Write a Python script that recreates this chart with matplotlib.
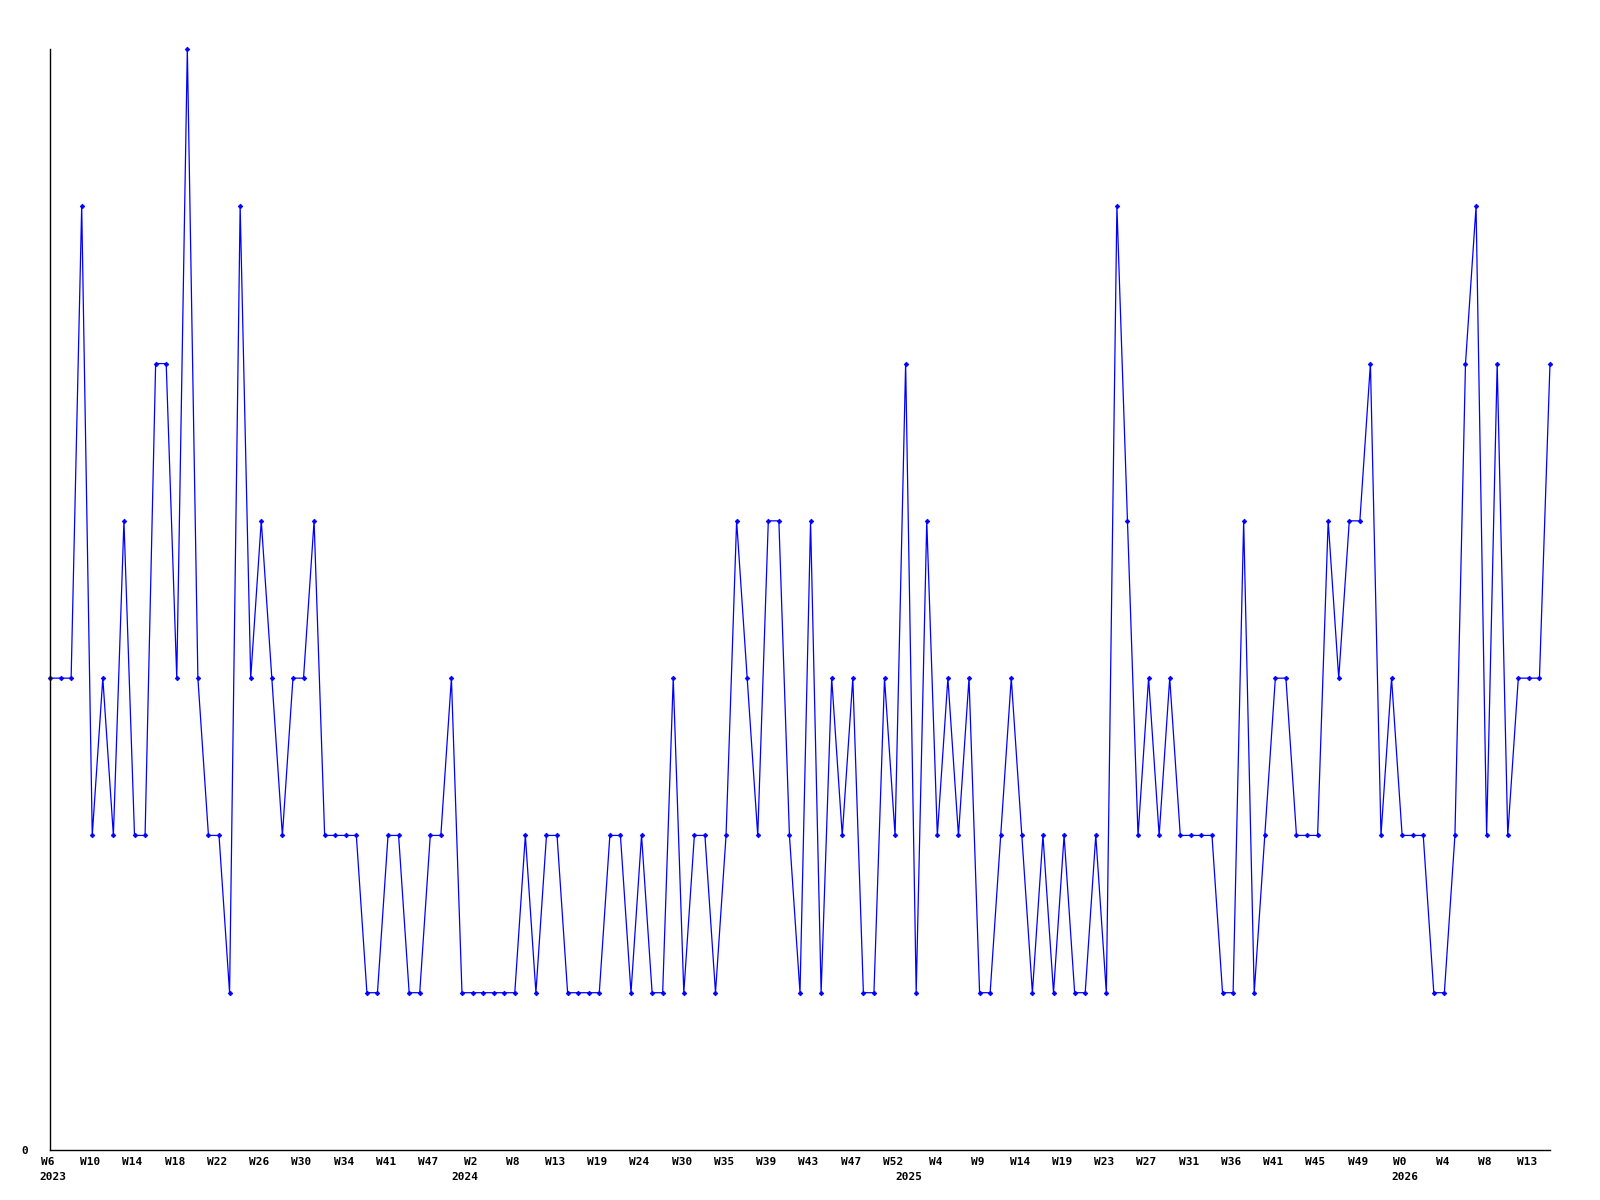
import matplotlib
matplotlib.use("Agg")
import matplotlib.pyplot as plt
import matplotlib.transforms as mtransforms
import numpy as np

values = [3, 3, 3, 6, 2, 3, 2, 4, 2, 2, 5, 5, 3, 7, 3, 2, 2, 1, 6, 3,
          4, 3, 2, 3, 3, 4, 2, 2, 2, 2, 1, 1, 2, 2, 1, 1, 2, 2, 3, 1,
          1, 1, 1, 1, 1, 2, 1, 2, 2, 1, 1, 1, 1, 2, 2, 1, 2, 1, 1, 3,
          1, 2, 2, 1, 2, 4, 3, 2, 4, 4, 2, 1, 4, 1, 3, 2, 3, 1, 1, 3,
          2, 5, 1, 4, 2, 3, 2, 3, 1, 1, 2, 3, 2, 1, 2, 1, 2, 1, 1, 2,
          1, 6, 4, 2, 3, 2, 3, 2, 2, 2, 2, 1, 1, 4, 1, 2, 3, 3, 2, 2,
          2, 4, 3, 4, 4, 5, 2, 3, 2, 2, 2, 1, 1, 2, 5, 6, 2, 5, 2, 3,
          3, 3, 5]

tick_labels = ["W6", "W10", "W14", "W18", "W22", "W26", "W30", "W34", "W41", "W47",
               "W2", "W8", "W13", "W19", "W24", "W30", "W35", "W39", "W43", "W47",
               "W52", "W4", "W9", "W14", "W19", "W23", "W27", "W31", "W36", "W41",
               "W45", "W49", "W0", "W4", "W8", "W13"]
tick_every = 4

year_labels = ["2023", "2024", "2025", "2026"]
year_index = [0, 39, 81, 128]

W, H = 1600, 1200
fig = plt.figure(figsize=(W / 100, H / 100), dpi=100)
left, right, top, bottom = 50, 1550, 49, 1150
ax = fig.add_axes([left / W, (H - bottom) / H, (right - left) / W, (bottom - top) / H])

x = np.arange(len(values))
ax.plot(x, values, color="#0000ff", linewidth=0.9, marker="D", markersize=2.4,
        markerfacecolor="#0000ff", markeredgecolor="#0000ff", markeredgewidth=0.5,
        clip_on=False)

ax.set_xlim(0, len(values) - 1)
ax.set_ylim(0, 7)

for s in ["top", "right"]:
    ax.spines[s].set_visible(False)
for s in ["left", "bottom"]:
    ax.spines[s].set_color("black")
    ax.spines[s].set_linewidth(1.0)

font = dict(family="DejaVu Sans Mono", weight="bold", size=8)

ax.set_xticks(np.arange(len(tick_labels)) * tick_every)
ax.set_xticklabels(tick_labels, **font)
ax.set_yticks([0])
ax.set_yticklabels(["0"], **font)
ax.tick_params(axis="x", length=0, pad=4.8)
ax.tick_params(axis="y", length=0, pad=16)

shift = mtransforms.ScaledTranslation(-2 / 100, 0, fig.dpi_scale_trans)
for lbl in ax.get_xticklabels():
    lbl.set_transform(lbl.get_transform() + shift)

for lab, idx in zip(year_labels, year_index):
    ax.annotate(lab, xy=(idx, 0), xycoords="data", xytext=(2.2, -16),
                textcoords="offset points", ha="center", va="top",
                annotation_clip=False, **font)

fig.savefig("out.png", dpi=100, facecolor="white")
